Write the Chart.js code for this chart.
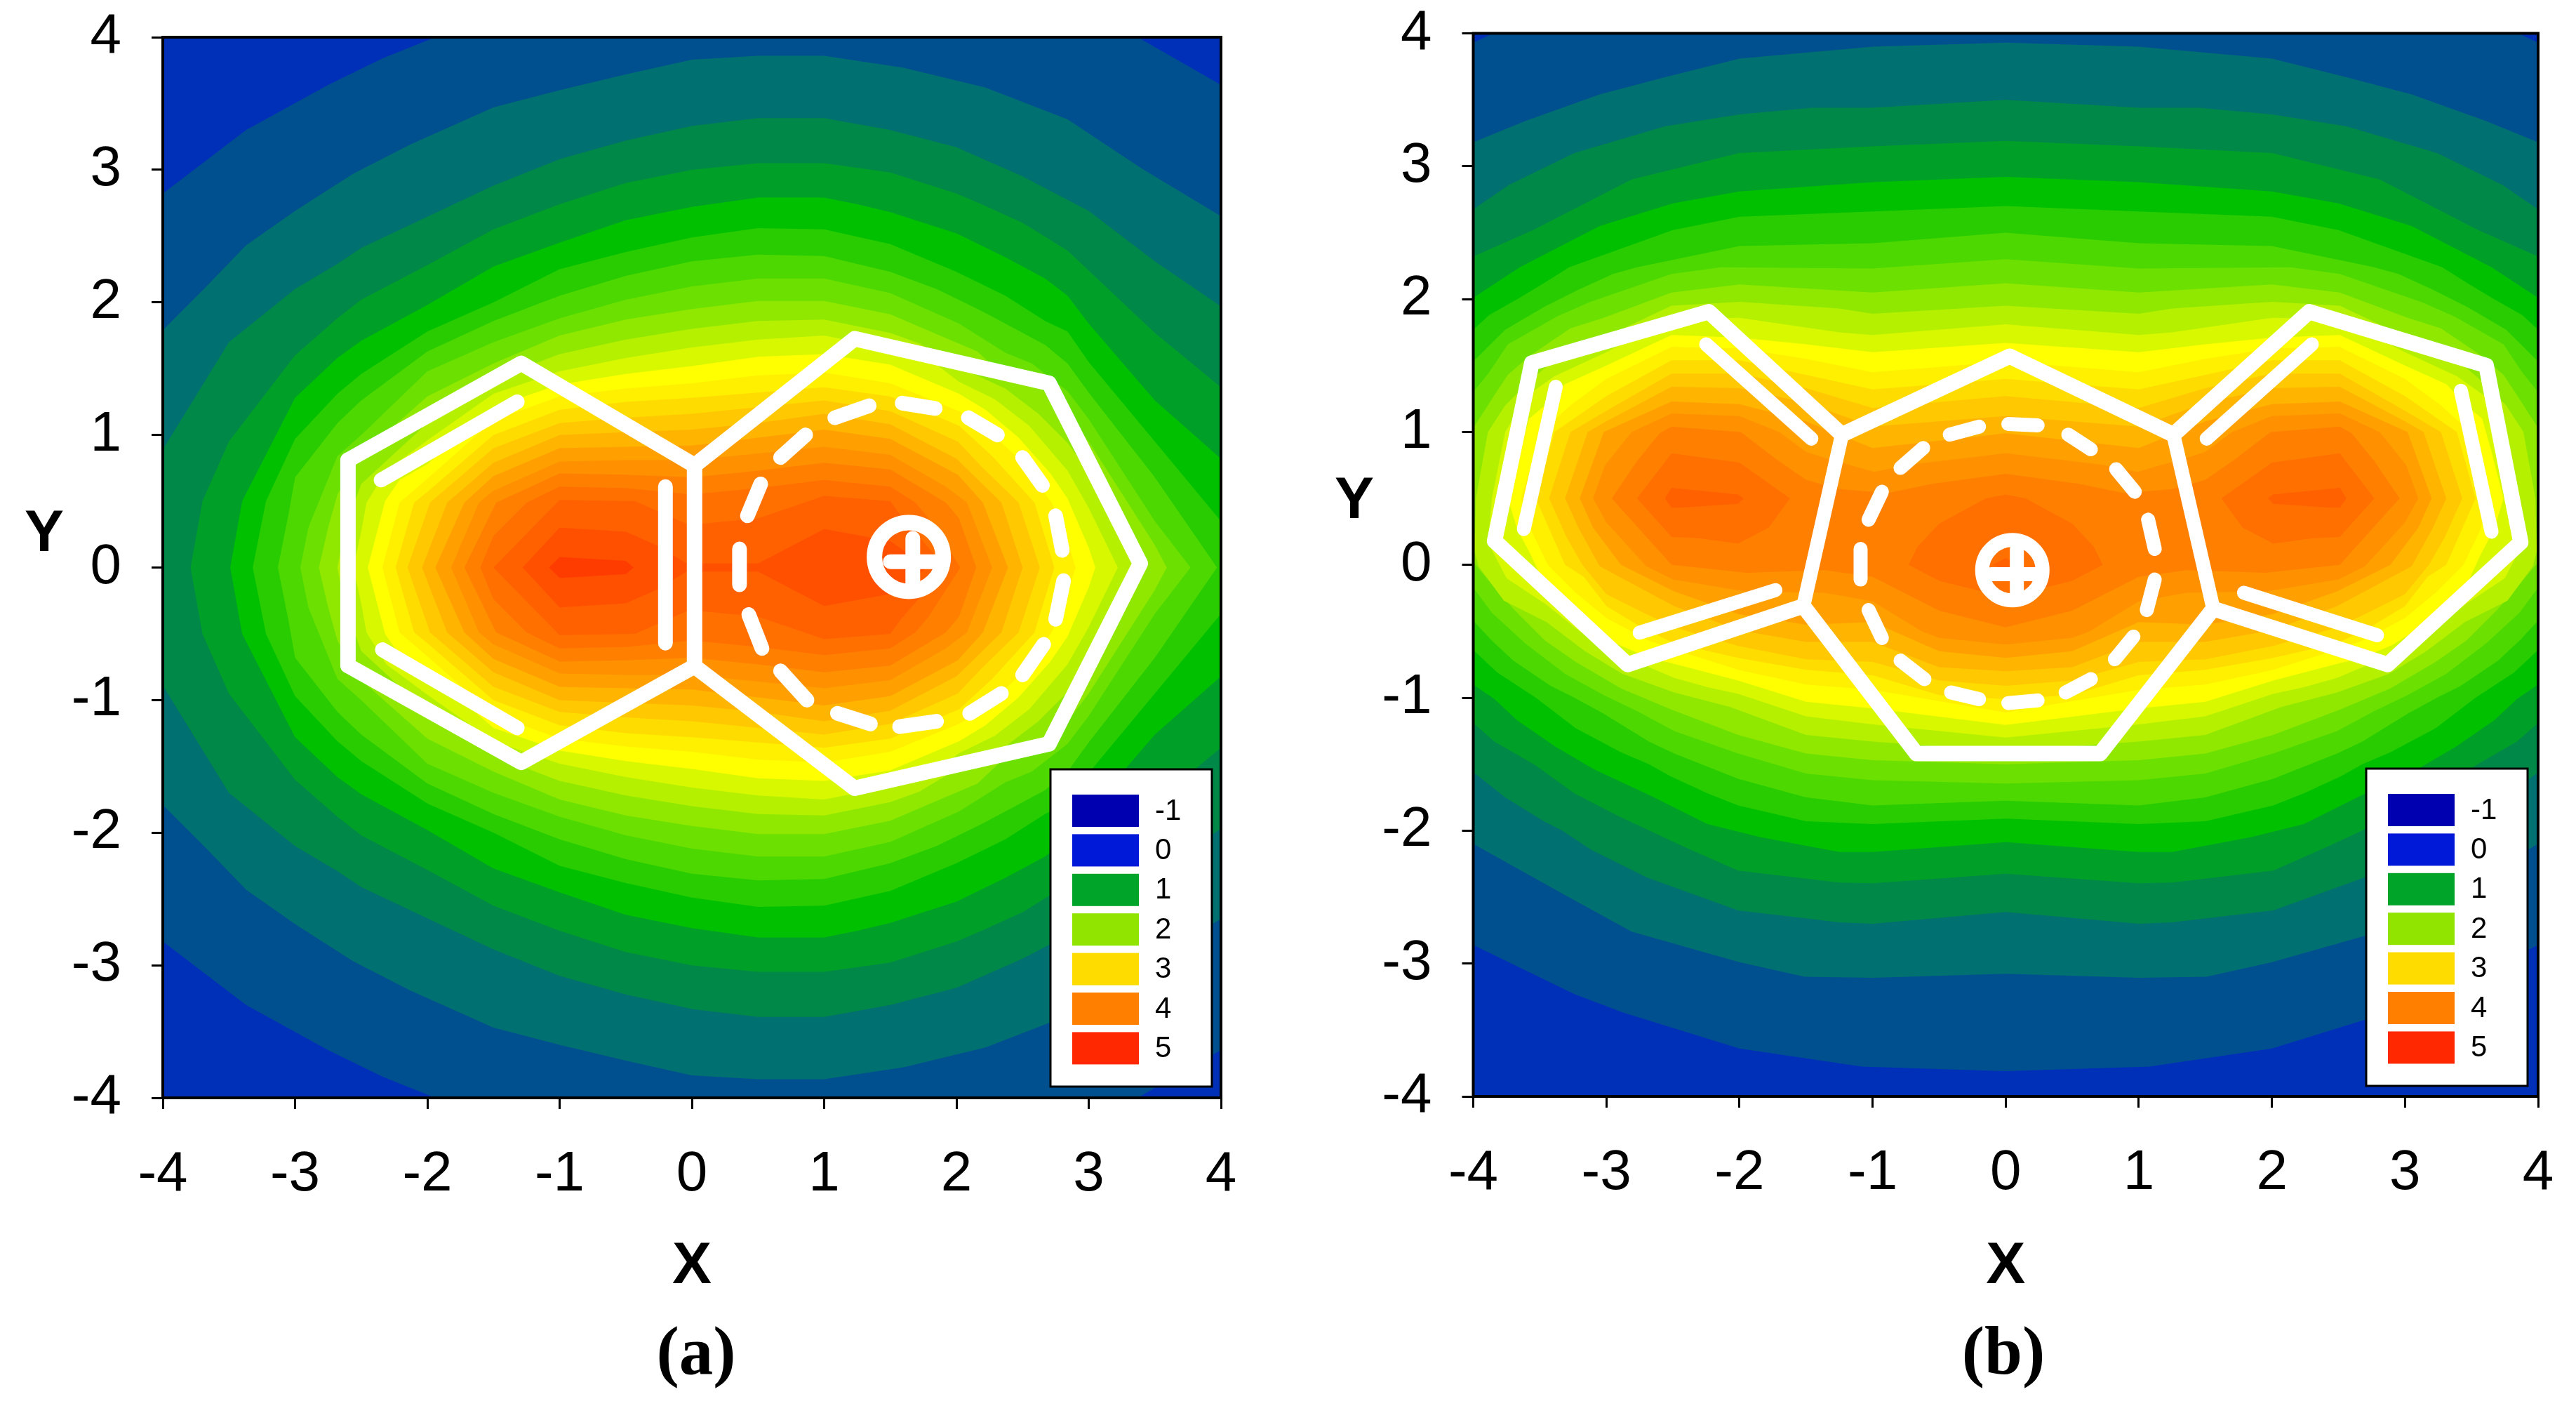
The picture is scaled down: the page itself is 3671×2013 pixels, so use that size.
<!DOCTYPE html>
<html>
<head>
<meta charset="utf-8">
<title>Contour maps</title>
<script src="https://cdn.jsdelivr.net/npm/chart.js@4"></script>
<style>
  html, body { margin: 0; padding: 0; background: #fff; }
  canvas { position: absolute; top: 0; }
  #chartA { left: 0; }
  #chartB { left: 1835px; }
</style>
</head>
<body>
<canvas id="chartA" width="1835" height="2013"></canvas>
<canvas id="chartB" width="1836" height="2013"></canvas>
<script>
const axisTicks = [-4, -3, -2, -1, 0, 1, 2, 3, 4];
const legendLabels = ['-1', '0', '1', '2', '3', '4', '5'];
const legendColors = ['#0000b0', '#0018d8', '#00a428', '#90e400', '#ffdc00', '#ff8000', '#ff2800'];
const bandColors = ['#0030b8', '#005090', '#007070', '#008848', '#00a028', '#00c000', '#28cc00', '#4cd800',
  '#6ce000', '#90e800', '#b4f000', '#d8f800', '#ffff00', '#fff000', '#ffdc00', '#ffc800',
  '#ffb400', '#ffa000', '#ff9000', '#ff8000', '#ff7000', '#ff6000', '#ff5000', '#ff3c00'];

// panel (a): top half of each contour, the map is symmetric about y = 0
const contoursA = [
  [[-4, 4], [4, 4]],
  [[-4, 2.82], [-3.37, 3.3], [-2.75, 3.64], [-2.34, 3.84], [-1.94, 4], [3.37, 4], [4, 3.64]],
  [[-4, 1.79], [-3.68, 2.11], [-3.37, 2.43], [-3, 2.69], [-2.56, 2.97], [-2.13, 3.19], [-1.5, 3.47], [-1, 3.6], [-0.5, 3.72], [0, 3.83], [0.5, 3.86], [1, 3.86], [1.6, 3.77], [2.22, 3.62], [2.84, 3.38], [3.4, 3.01], [4, 2.65]],
  [[-4, 0.89], [-3.5, 1.7], [-3, 2.1], [-2.68, 2.29], [-2.5, 2.41], [-1.8, 2.74], [-1.5, 2.88], [-1, 3.08], [-0.5, 3.22], [0, 3.33], [0.5, 3.39], [1, 3.39], [1.5, 3.3], [2, 3.17], [2.5, 2.95], [3, 2.69], [3.5, 2.31], [4, 1.97]],
  [[-3.79, 0], [-3.7, 0.5], [-3.5, 0.95], [-3, 1.6], [-2.68, 1.88], [-2.5, 2.02], [-2, 2.28], [-1.5, 2.55], [-1, 2.74], [-0.5, 2.9], [0, 3], [0.5, 3.05], [1, 3.05], [1.5, 2.98], [2, 2.82], [2.19, 2.74], [2.5, 2.6], [2.84, 2.39], [3, 2.24], [3.5, 1.77], [4, 1.36]],
  [[-3.49, 0], [-3.4, 0.5], [-3, 1.28], [-2.68, 1.58], [-2.5, 1.71], [-2, 1.98], [-1.5, 2.27], [-1, 2.45], [-0.5, 2.62], [0, 2.72], [0.5, 2.79], [1, 2.79], [1.25, 2.74], [1.5, 2.68], [2, 2.52], [2.37, 2.34], [2.67, 2.18], [2.84, 2.05], [3, 1.84], [3.5, 1.26], [4, 0.82]],
  [[-3.32, 0], [-3.22, 0.5], [-3, 0.97], [-2.68, 1.31], [-2.5, 1.46], [-2, 1.78], [-1.5, 2], [-1, 2.25], [-0.5, 2.38], [0, 2.49], [0.5, 2.56], [1, 2.55], [1.5, 2.44], [2, 2.23], [2.37, 2.05], [2.67, 1.86], [2.84, 1.78], [3, 1.55], [3.5, 0.95], [4, 0.35]],
  [[-3.13, 0], [-3.05, 0.4], [-3, 0.68], [-2.68, 1.09], [-2.5, 1.26], [-2, 1.63], [-1.5, 1.86], [-1, 2.05], [-0.5, 2.2], [0, 2.31], [0.5, 2.36], [1, 2.35], [1.5, 2.23], [1.85, 2.1], [2.18, 1.94], [2.37, 1.84], [2.67, 1.68], [2.84, 1.54], [3, 1.32], [3.5, 0.68], [3.97, 0]],
  [[-2.96, 0], [-2.9, 0.3], [-2.68, 0.84], [-2.5, 1], [-2, 1.48], [-1.5, 1.7], [-1, 1.88], [-0.5, 2.02], [0, 2.12], [0.5, 2.18], [1, 2.18], [1.5, 2.07], [2.02, 1.84], [2.37, 1.62], [2.57, 1.54], [2.84, 1.33], [3, 1.12], [3.5, 0.35], [3.77, 0]],
  [[-2.82, 0], [-2.75, 0.3], [-2.68, 0.55], [-2.5, 0.85], [-2, 1.29], [-1.5, 1.54], [-1, 1.75], [-0.5, 1.87], [0, 1.95], [0.5, 2.01], [1, 2.01], [1.5, 1.91], [1.85, 1.76], [2.16, 1.63], [2.37, 1.43], [2.64, 1.35], [2.84, 1.16], [3, 0.95], [3.5, 0.17], [3.59, 0]],
  [[-2.68, 0], [-2.62, 0.3], [-2.5, 0.63], [-2, 1.09], [-1.5, 1.42], [-1, 1.61], [-0.5, 1.72], [0, 1.8], [0.5, 1.86], [1, 1.87], [1.5, 1.77], [1.72, 1.69], [2.02, 1.51], [2.37, 1.35], [2.62, 1.16], [2.84, 0.94], [3, 0.72], [3.41, 0]],
  [[-2.56, 0], [-2.5, 0.27], [-2.46, 0.49], [-2.31, 0.73], [-2, 0.96], [-1.5, 1.31], [-1, 1.48], [-0.5, 1.58], [0, 1.66], [0.5, 1.72], [1, 1.75], [1.5, 1.65], [1.85, 1.53], [2.02, 1.4], [2.29, 1.27], [2.55, 1.07], [2.84, 0.73], [3, 0.45], [3.22, 0]],
  [[-2.45, 0], [-2.32, 0.5], [-2.21, 0.66], [-2, 0.78], [-1.5, 1.21], [-1, 1.38], [-0.5, 1.46], [0, 1.52], [0.5, 1.59], [1, 1.61], [1.5, 1.53], [2.02, 1.31], [2.22, 1.19], [2.47, 0.98], [2.71, 0.71], [2.84, 0.52], [3, 0.15], [3.05, 0]],
  [[-2.34, 0], [-2.21, 0.49], [-2, 0.67], [-1.5, 1.11], [-1, 1.29], [-0.5, 1.35], [0, 1.39], [0.5, 1.45], [1, 1.47], [1.5, 1.39], [2.02, 1.18], [2.2, 1.07], [2.45, 0.84], [2.72, 0.49], [2.84, 0.2], [2.9, 0]],
  [[-2.24, 0], [-2.1, 0.49], [-2, 0.57], [-1.5, 1], [-1, 1.19], [-0.5, 1.25], [0, 1.28], [0.5, 1.32], [1, 1.36], [1.5, 1.29], [2.02, 1.07], [2.27, 0.84], [2.59, 0.49], [2.74, 0]],
  [[-2.15, 0], [-1.98, 0.49], [-1.5, 0.9], [-1, 1.09], [-0.5, 1.13], [0, 1.16], [0.5, 1.21], [1, 1.26], [1.5, 1.18], [2.01, 0.95], [2.2, 0.75], [2.47, 0.49], [2.63, 0]],
  [[-2.04, 0], [-1.85, 0.49], [-1.5, 0.79], [-1, 1], [-0.5, 1.02], [0, 1.04], [0.5, 1.09], [1, 1.16], [1.5, 1.08], [2, 0.82], [2.34, 0.49], [2.5, 0]],
  [[-1.94, 0], [-1.72, 0.49], [-1.5, 0.69], [-1, 0.9], [-0.5, 0.91], [0, 0.92], [0.5, 0.98], [1, 1.04], [1.5, 0.97], [2.01, 0.7], [2.2, 0.49], [2.39, 0]],
  [[-1.82, 0], [-1.61, 0.49], [-1.5, 0.58], [-1, 0.8], [-0.5, 0.81], [0, 0.81], [0.5, 0.86], [1, 0.91], [1.5, 0.85], [1.92, 0.61], [2.08, 0.49], [2.27, 0]],
  [[-1.72, 0], [-1.48, 0.49], [-1, 0.71], [-0.5, 0.7], [0, 0.68], [0.5, 0.73], [1, 0.79], [1.5, 0.74], [1.92, 0.49], [2.02, 0.37], [2.15, 0]],
  [[-1.6, 0], [-1.5, 0.24], [-1.25, 0.49], [-1, 0.61], [-0.5, 0.6], [0, 0.55], [0.5, 0.6], [1, 0.66], [1.5, 0.61], [1.69, 0.49], [1.79, 0.37], [2.03, 0]],
  [[-1.5, 0], [-1, 0.51], [-0.43, 0.5], [-0.04, 0.33], [0.07, 0.33], [0.5, 0.37], [1, 0.54], [1.5, 0.5], [1.58, 0.39], [1.92, 0]],
  [[-1.28, 0], [-1, 0.3], [-0.5, 0.27], [-0.27, 0.17], [-0.04, 0.03], [0.5, 0.03], [1, 0.29], [1.5, 0.2], [1.78, 0]],
  [[-1.08, 0], [-1, 0.08], [-0.5, 0.05], [-0.44, 0]]
];

// panel (b): left half of each contour from (0, top) to (0, bottom), symmetric about x = 0
const contoursB = [
  [[0, 4], [-4, 4], [-4, -4], [0, -4]],
  [[0, 4], [-3.85, 4], [-4, 3.93], [-4, -2.86], [-3.24, -3.23], [-2.87, -3.37], [-2, -3.64], [-1.08, -3.775], [0, -3.81]],
  [[0, 3.93], [-1, 3.9], [-2, 3.81], [-2.56, 3.67], [-3.05, 3.54], [-3.61, 3.34], [-4, 3.18], [-4, -2.1], [-3.3, -2.49], [-2.81, -2.76], [-2, -2.99], [-1.51, -3.1], [-1, -3.107], [0, -3.077]],
  [[0, 3.5], [-1, 3.44], [-1.45, 3.44], [-2, 3.39], [-2.56, 3.3], [-3.24, 3.1], [-3.73, 2.86], [-4, 2.675], [-4, -1.56], [-3.76, -1.75], [-3.47, -1.93], [-3.33, -2], [-3.12, -2.14], [-2.7, -2.35], [-2.01, -2.6], [-1.25, -2.69], [-1, -2.7], [0, -2.612]],
  [[0, 3.19], [-1, 3.15], [-2, 3.1], [-2.81, 2.9], [-3.55, 2.52], [-4, 2.32], [-4, -1.19], [-3.84, -1.33], [-3.53, -1.51], [-3.24, -1.72], [-2.91, -1.89], [-2.42, -2.12], [-2.01, -2.3], [-1.25, -2.39], [-1, -2.395], [0, -2.324]],
  [[0, 2.92], [-1, 2.88], [-2, 2.81], [-2.5, 2.72], [-3.05, 2.55], [-3.65, 2.24], [-4, 2.01], [-4, -0.9], [-3.84, -1.01], [-3.67, -1.17], [-3.38, -1.37], [-3.09, -1.54], [-2.66, -1.74], [-2.24, -1.95], [-1.84, -2.05], [-1.25, -2.16], [-1, -2.16], [0, -2.087]],
  [[0, 2.7], [-1, 2.66], [-2, 2.62], [-2.5, 2.52], [-3.28, 2.24], [-3.47, 2.12], [-3.67, 2], [-3.88, 1.88], [-4, 1.77], [-4, -0.64], [-3.82, -0.81], [-3.53, -1], [-3.23, -1.23], [-2.89, -1.41], [-2.68, -1.5], [-2.52, -1.59], [-2.24, -1.72], [-2.01, -1.81], [-1.5, -1.93], [-1, -1.95], [0, -1.91]],
  [[0, 2.5], [-1, 2.42], [-2, 2.4], [-2.77, 2.24], [-2.95, 2.19], [-3.21, 2.07], [-3.47, 1.94], [-3.76, 1.77], [-4, 1.53], [-4, -0.42], [-3.86, -0.57], [-3.7, -0.72], [-3.42, -0.91], [-3.24, -1], [-3.02, -1.12], [-2.68, -1.33], [-2.49, -1.42], [-2.01, -1.61], [-1.5, -1.75], [-1, -1.81], [0, -1.775]],
  [[0, 2.3], [-1, 2.23], [-2.14, 2.24], [-2.51, 2.19], [-3.12, 1.98], [-3.37, 1.87], [-3.74, 1.66], [-3.88, 1.45], [-4, 1.3], [-4, -0.17], [-3.86, -0.36], [-3.61, -0.59], [-3.31, -0.82], [-3.02, -0.98], [-2.77, -1.1], [-2.49, -1.25], [-2.01, -1.42], [-1.5, -1.57], [-1, -1.62], [0, -1.646]],
  [[0, 2.12], [-1, 2.05], [-2, 2.11], [-2.51, 2.05], [-3.02, 1.86], [-3.27, 1.78], [-3.58, 1.57], [-3.74, 1.43], [-3.82, 1.31], [-4, 1.03], [-4, 0.02], [-3.84, -0.17], [-3.7, -0.33], [-3.46, -0.57], [-3.23, -0.73], [-2.89, -0.93], [-2.51, -1.09], [-2.01, -1.28], [-1.5, -1.42], [-1, -1.47], [0, -1.5]],
  [[0, 1.95], [-1, 1.89], [-1.25, 1.93], [-2, 1.98], [-2.51, 1.95], [-3, 1.72], [-3.3, 1.62], [-3.58, 1.38], [-3.76, 1.2], [-3.89, 1], [-3.98, 0.5], [-3.99, 0.1], [-3.96, -0.01], [-3.77, -0.27], [-3.45, -0.43], [-3.16, -0.65], [-2.88, -0.82], [-2.49, -0.96], [-2.07, -1.07], [-1.5, -1.28], [-1, -1.33], [0, -1.4]],
  [[0, 1.81], [-1, 1.73], [-1.25, 1.75], [-2, 1.86], [-2.51, 1.85], [-3, 1.6], [-3.39, 1.42], [-3.6, 1.27], [-3.76, 1], [-3.86, 0.5], [-3.89, 0.17], [-3.75, -0.1], [-3.45, -0.3], [-3.2, -0.5], [-2.88, -0.68], [-2.68, -0.77], [-2.49, -0.85], [-2.24, -0.92], [-2.01, -0.97], [-1.5, -1.14], [-1, -1.2], [0, -1.3]],
  [[0, 1.67], [-1, 1.6], [-1.5, 1.66], [-2, 1.71], [-2.51, 1.73], [-3, 1.5], [-3.31, 1.36], [-3.46, 1.2], [-3.58, 1.1], [-3.65, 0.85], [-3.74, 0.5], [-3.67, 0.27], [-3.57, 0.08], [-3.44, -0.2], [-3.2, -0.42], [-2.91, -0.6], [-2.68, -0.7], [-2.51, -0.74], [-2.01, -0.87], [-1.5, -1.03], [-1, -1.08], [0, -1.205]],
  [[0, 1.53], [-1, 1.45], [-1.5, 1.55], [-2, 1.63], [-2.51, 1.64], [-3, 1.4], [-3.27, 1.2], [-3.49, 1], [-3.64, 0.5], [-3.56, 0.25], [-3.44, 0], [-3.23, -0.21], [-3, -0.4], [-2.68, -0.57], [-2.45, -0.65], [-2.01, -0.79], [-1.5, -0.9], [-1, -0.94], [0, -1.11]],
  [[0, 1.4], [-1, 1.32], [-1.5, 1.43], [-2, 1.54], [-2.51, 1.54], [-3, 1.27], [-3.39, 1], [-3.53, 0.5], [-3.42, 0.25], [-3.31, 0], [-3.17, -0.09], [-3, -0.31], [-2.72, -0.48], [-2.49, -0.59], [-2.01, -0.7], [-1.5, -0.79], [-1, -0.83], [-0.5, -0.98], [0, -1.01]],
  [[0, 1.27], [-1, 1.18], [-1.5, 1.33], [-2, 1.44], [-2.51, 1.44], [-3, 1.16], [-3.27, 1], [-3.43, 0.5], [-3.3, 0.21], [-3.18, 0], [-3, -0.22], [-2.72, -0.36], [-2.49, -0.47], [-2.01, -0.61], [-1.5, -0.71], [-1, -0.73], [-0.5, -0.87], [0, -0.91]],
  [[0, 1.12], [-1, 1.04], [-1.5, 1.22], [-2, 1.33], [-2.51, 1.34], [-3, 1.08], [-3.14, 1], [-3.31, 0.5], [-3.21, 0.28], [-3.05, -0.01], [-2.49, -0.31], [-2.01, -0.49], [-1.5, -0.58], [-1, -0.58], [-0.5, -0.77], [0, -0.8]],
  [[0, 0.99], [-1, 0.88], [-1.5, 1.08], [-2, 1.21], [-2.51, 1.23], [-3.02, 1], [-3.2, 0.5], [-3.1, 0.28], [-2.89, 0], [-2.49, -0.2], [-2.01, -0.37], [-1.5, -0.45], [-1, -0.43], [-0.5, -0.65], [0, -0.7]],
  [[0, 0.84], [-0.71, 0.755], [-0.99, 0.7], [-1.2, 0.76], [-1.31, 0.79], [-1.5, 0.85], [-1.7, 1], [-2, 1.12], [-2.51, 1.14], [-2.81, 1], [-3.01, 0.75], [-3.1, 0.5], [-3, 0.32], [-2.7, -0.01], [-2.5, -0.11], [-1.96, -0.2], [-1.36, -0.21], [-1, -0.275], [-0.63, -0.5], [-0.5, -0.55], [0, -0.6]],
  [[0, 0.685], [-0.55, 0.61], [-0.89, 0.54], [-1.25, 0.57], [-1.36, 0.6], [-1.5, 0.64], [-1.73, 0.8], [-1.99, 1], [-2.51, 1.04], [-2.6, 0.99], [-2.77, 0.78], [-2.96, 0.5], [-2.51, 0], [-1.95, -0.06], [-1.36, -0.04], [-1, -0.09], [-0.5, -0.345], [0, -0.47]]
];
const centreB20 = [[0, 0.53], [-0.15, 0.5], [-0.5, 0.31], [-0.66, 0.14], [-0.73, 0], [-0.5, -0.12], [-0.18, -0.2], [0, -0.24]];
const centreB21 = [[0, 0.05], [-0.1, 0], [0, -0.03]];
const lobeB20 = [[-2.77, 0.5], [-2.51, 0.84], [-2, 0.77], [-1.62, 0.5], [-1.78, 0.28], [-2.01, 0.16], [-2.3, 0.2], [-2.51, 0.21]];
const lobeB21 = [[-2.56, 0.5], [-2.51, 0.58], [-2.01, 0.53], [-1.97, 0.5], [-2.01, 0.46], [-2.45, 0.43], [-2.51, 0.43]];

// molecule outlines
const bondsA = [[0.02, 0.77], [-1.29, 1.54], [-2.6, 0.81], [-2.6, -0.74], [-1.29, -1.47], [0.02, -0.745], [0.02, 0.77], [1.23, 1.726], [2.7, 1.39], [3.39, 0.03], [2.7, -1.33], [1.23, -1.665], [0.02, -0.745]];
const doubleBondsA = [
  [[-0.2, 0.61], [-0.2, -0.57]],
  [[-2.35, 0.66], [-1.32, 1.25]],
  [[-2.34, -0.62], [-1.32, -1.21]]
];
const dashesA = [
  [[0.36, 0.14], [0.36, -0.13]], [[0.42, 0.39], [0.52, 0.63]], [[0.67, 0.83], [0.86, 1]], [[1.08, 1.13], [1.34, 1.22]],
  [[1.59, 1.24], [1.84, 1.2]], [[2.09, 1.13], [2.31, 1]], [[2.5, 0.83], [2.65, 0.62]], [[2.75, 0.39], [2.8, 0.13]],
  [[2.81, -0.1], [2.75, -0.39]], [[2.66, -0.58], [2.5, -0.81]], [[2.34, -0.95], [2.1, -1.1]], [[1.85, -1.16], [1.57, -1.2]],
  [[1.35, -1.18], [1.1, -1.1]], [[0.87, -1], [0.67, -0.78]], [[0.53, -0.61], [0.43, -0.355]]
];
const plusA = [[[1.5, 0.044], [1.84, 0.044]], [[1.67, 0.22], [1.67, -0.14]]];
const ringA = [[1.64, 0.08]];

const bondsB = [[-3.84, 0.18], [-3.56, 1.52], [-2.23, 1.905], [-1.23, 0.98], [0.03, 1.57], [1.26, 0.98], [2.28, 1.905], [3.61, 1.5], [3.87, 0.17], [2.87, -0.75], [1.56, -0.33], [0.71, -1.42], [-0.67, -1.42], [-1.52, -0.31], [-2.84, -0.75], [-3.84, 0.18]];
const chordsB = [[[-1.23, 0.98], [-1.52, -0.31]], [[1.26, 0.98], [1.56, -0.33]]];
const doubleBondsB = [
  [[-3.38, 1.34], [-3.62, 0.27]], [[-2.25, 1.66], [-1.46, 0.95]], [[-1.73, -0.19], [-2.75, -0.51]],
  [[3.42, 1.31], [3.65, 0.25]], [[2.3, 1.66], [1.51, 0.95]], [[1.79, -0.21], [2.79, -0.53]]
];
const dashesB = [
  [[0.02, 1.06], [0.24, 1.05]], [[0.47, 0.98], [0.64, 0.87]], [[0.83, 0.72], [0.97, 0.55]], [[1.07, 0.34], [1.12, 0.12]],
  [[1.12, -0.11], [1.06, -0.34]], [[0.96, -0.54], [0.82, -0.71]], [[0.64, -0.86], [0.45, -0.96]], [[0.24, -1.02], [0.02, -1.04]],
  [[-0.2, -1.01], [-0.41, -0.96]], [[-0.61, -0.86], [-0.79, -0.72]], [[-0.93, -0.55], [-1.03, -0.34]], [[-1.09, -0.11], [-1.09, 0.12]],
  [[-1.03, 0.34], [-0.93, 0.55]], [[-0.79, 0.73], [-0.62, 0.88]], [[-0.42, 0.98], [-0.2, 1.04]]
];
const plusB = [[[-0.11, -0.07], [0.22, -0.07]], [[0.084, 0.12], [0.084, -0.21]]];
const ringB = [[0.05, -0.04]];

function toPoints(list) {
  return list.map(p => ({ x: p[0], y: p[1] }));
}
function mirrorY(half) {
  return half.concat(half.slice().reverse().map(p => [p[0], -p[1]]));
}
function mirrorX(half) {
  return half.concat(half.slice().reverse().map(p => [-p[0], p[1]]));
}
function flipX(list) {
  return list.map(p => [-p[0], p[1]]);
}

function band(points, colorIndex) {
  return {
    data: toPoints(points),
    showLine: true,
    fill: 'shape',
    backgroundColor: bandColors[colorIndex],
    borderWidth: 0,
    pointRadius: 0,
    tension: 0
  };
}
function stroke(points, width, join) {
  return {
    data: toPoints(points),
    showLine: true,
    fill: false,
    borderColor: '#fff',
    borderWidth: width,
    borderCapStyle: 'round',
    borderJoinStyle: join || 'round',
    pointRadius: 0,
    tension: 0
  };
}
function ring(points, radius, width) {
  return {
    data: toPoints(points),
    showLine: false,
    pointRadius: radius,
    pointBorderWidth: width,
    pointBackgroundColor: 'rgba(0,0,0,0)',
    pointBorderColor: '#fff'
  };
}

// panel decorations: frame, legend box, Y title and caption
const panelDecor = {
  id: 'panelDecor',
  afterDatasetsDraw(chart, args, opts) {
    const ctx = chart.ctx;
    const area = chart.chartArea;
    ctx.save();
    ctx.strokeStyle = '#000';
    ctx.lineWidth = 4;
    ctx.strokeRect(area.left, area.top, area.right - area.left, area.bottom - area.top);

    const boxW = 230, boxH = 452;
    const boxX = area.right - opts.legendRight - boxW;
    const boxY = area.bottom - opts.legendBottom - boxH;
    ctx.fillStyle = '#fff';
    ctx.fillRect(boxX, boxY, boxW, boxH);
    ctx.lineWidth = 3;
    ctx.strokeRect(boxX, boxY, boxW, boxH);
    ctx.textAlign = 'left';
    ctx.textBaseline = 'middle';
    ctx.font = '42px "Liberation Sans"';
    legendLabels.forEach((label, i) => {
      const y = boxY + 36 + i * 56.4;
      ctx.fillStyle = legendColors[i];
      ctx.fillRect(boxX + 31, y, 95, 46);
      ctx.fillStyle = '#000';
      ctx.fillText(label, boxX + 149, y + 24);
    });

    ctx.textAlign = 'center';
    ctx.fillStyle = '#000';
    ctx.font = 'bold 84px "Liberation Sans"';
    ctx.fillText('Y', opts.yTitleX, opts.yTitleY);
    ctx.font = 'bold 97px "Liberation Serif"';
    ctx.fillText(opts.caption, opts.captionX, 1932);
    ctx.restore();
  }
};

function buildChart(canvasId, datasets, frame, decor) {
  const tickFont = { family: '"Liberation Sans"', size: 80, lineHeight: 1 };
  const axis = {
    type: 'linear',
    min: -4,
    max: 4,
    afterBuildTicks(scale) {
      scale.ticks = axisTicks.map(v => ({ value: v }));
    },
    grid: { drawOnChartArea: false, drawTicks: true, tickLength: 16, tickWidth: 3, tickColor: '#000' },
    border: { display: true, color: '#000', width: 4 }
  };
  new Chart(document.getElementById(canvasId), {
    type: 'scatter',
    data: { datasets: datasets.reverse() },
    plugins: [panelDecor],
    options: {
      responsive: false,
      animation: false,
      devicePixelRatio: 1,
      events: [],
      layout: { autoPadding: false, padding: { left: 0, top: frame.top, right: frame.right, bottom: 0 } },
      plugins: { legend: { display: false }, tooltip: { enabled: false }, panelDecor: decor },
      scales: {
        x: Object.assign({}, axis, {
          position: 'bottom',
          ticks: { font: tickFont, color: '#000', padding: 54, maxRotation: 0, autoSkip: false },
          title: {
            display: true,
            text: 'X',
            color: '#000',
            font: { family: '"Liberation Sans"', size: 84, weight: 'bold', lineHeight: 1 },
            padding: { top: 0, bottom: 166 }
          },
          afterFit(scale) {
            scale.height = frame.bottom;
            scale.paddingLeft = 0;
            scale.paddingRight = 0;
          }
        }),
        y: Object.assign({}, axis, {
          position: 'left',
          ticks: { font: tickFont, color: '#000', padding: 43, autoSkip: false },
          afterFit(scale) {
            scale.width = frame.left;
            scale.paddingTop = 0;
            scale.paddingBottom = 0;
          }
        })
      }
    }
  });
}

const datasetsA = contoursA.map((half, i) => band(mirrorY(half), i));
datasetsA.push(stroke(bondsA, 22));
doubleBondsA.concat(dashesA, plusA).forEach(seg => datasetsA.push(stroke(seg, 21)));
datasetsA.push(ring(ringA, 49, 22));

const datasetsB = contoursB.map((half, i) => band(mirrorX(half), i));
datasetsB.push(band(lobeB20, 20), band(flipX(lobeB20), 20), band(mirrorX(centreB20), 20));
datasetsB.push(band(lobeB21, 21), band(flipX(lobeB21), 21), band(mirrorX(centreB21), 21));
datasetsB.push(stroke(bondsB, 22));
chordsB.concat(doubleBondsB, dashesB, plusB).forEach(seg => datasetsB.push(stroke(seg, 20)));
datasetsB.push(ring(ringB, 43, 20));

buildChart('chartA', datasetsA, { left: 232, top: 53, right: 95, bottom: 449 },
  { caption: '(a)', captionX: 992, yTitleX: 63, yTitleY: 762, legendRight: 13, legendBottom: 16 });
buildChart('chartB', datasetsB, { left: 264.5, top: 47.5, right: 54, bottom: 451 },
  { caption: '(b)', captionX: 1020, yTitleX: 95, yTitleY: 715, legendRight: 15, legendBottom: 15 });
</script>
</body>
</html>
